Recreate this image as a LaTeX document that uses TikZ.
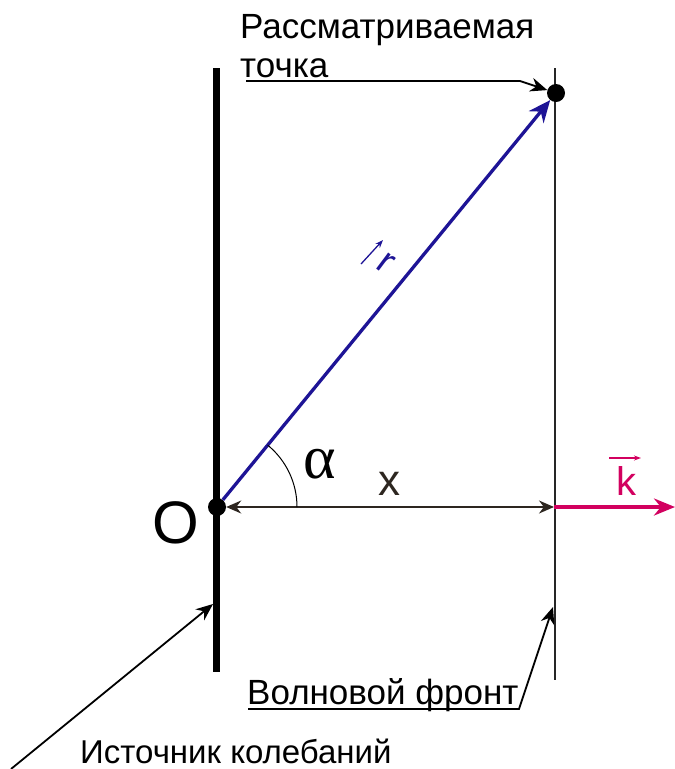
\documentclass[tikz,border=0pt]{standalone}
\usepackage{fontspec}
\setmainfont{Liberation Sans}
\newfontfamily\greekfont{Liberation Serif}
\usetikzlibrary{arrows.meta,positioning,calc}
\definecolor{vecblue}{RGB}{30,20,150}
\definecolor{wavek}{RGB}{210,0,95}
\definecolor{darkline}{RGB}{45,38,32}

\begin{document}
\begin{tikzpicture}[
  x=1pt, y=-1pt,
  >=Stealth,
  dot/.style={
    circle, fill=black, inner sep=0pt, minimum size=18pt
  },
  source/.style={line width=7pt, black},
  front/.style={line width=1.6pt, black!85},
  rvec/.style={line width=3.3pt, vecblue, -{Stealth[length=22pt,width=19pt]}},
  xdim/.style={line width=1.8pt, darkline,
    {Stealth[length=15pt,width=13pt]}-{Stealth[length=15pt,width=13pt]}},
  kvec/.style={line width=3.8pt, wavek, -{Stealth[length=21pt,width=17pt]}},
  lead/.style={line width=1.8pt, black, -{Stealth[length=17pt,width=14pt]}},
  txt/.style={font=\fontsize{35}{40}\selectfont, inner sep=0pt, anchor=base west},
  sym/.style={inner sep=0pt, anchor=base}
]
\useasboundingbox (0,0) rectangle (675,769);

% -- Источник и волновой фронт --
\coordinate (srctop) at (216,68);
\coordinate (srcbot) at (216,672);
\coordinate (ftop)   at (555,68);
\coordinate (fbot)   at (555,680);
\draw[source] (srctop) -- (srcbot);
\draw[front]  (ftop)   -- (fbot);

% -- Точки --
\node[dot] (O) at (217,507) {};
\node[dot] (P) at (556,93)  {};
\coordinate (F)    at (554,507);
\coordinate (kend) at (675,507);

% -- Векторы --
\draw[rvec] (O) -- (P);
\draw[xdim] (O) -- (F);
\draw[kvec] (F) -- (kend);
\draw[line width=1pt] (297,507) arc[start angle=0, end angle=-50.7, radius=80];

% -- Обозначения --
\node[sym, font=\fontsize{60}{60}\selectfont] (Olbl) at (176,543) {O};
\node[sym, font=\greekfont\fontsize{62}{62}\selectfont] (alpha) at (320,478) {α};
\node[sym, font=\fontsize{44}{44}\selectfont, text=darkline] (xlbl) at (389,495) {x};
\node[sym, font=\fontsize{40}{40}\selectfont, text=wavek] (klbl) at (626,495) {k};
\coordinate (ka) at (609,458);
\coordinate (kb) at (641,458);
\draw[wavek, line width=1.2pt, -{Stealth[length=7pt,width=5pt]}] (ka) -- (kb);
\node[font=\fontsize{38}{38}\selectfont, text=vecblue, inner sep=0pt, rotate=-37] (rlbl) at (386,263) {r};
\coordinate (ra) at (361,264);
\coordinate (rb) at (383,240);
\draw[vecblue, line width=1.3pt, -{Stealth[length=8pt,width=6pt]}] (ra) -- (rb);

% -- Подписи --
\node[txt] (rasm)   at (240,38)  {Рассматриваемая};
\node[txt] (tochka) at (240,77)  {точка};
\node[txt] (wfront) at (247,704) {Волновой фронт};
\node[txt, font=\fontsize{33}{38}\selectfont] (istoch) at (80,763) {Источник колебаний};

% -- Выноски --
\coordinate (ptA) at (246,81);
\coordinate (ptB) at (520,81);
\draw[lead] (ptA) -- (ptB) -- (P);

\coordinate (wfA) at (248,709);
\coordinate (wfB) at (519,709);
\coordinate (wfT) at (553,607);
\draw[lead] (wfA) -- (wfB) -- (wfT);

\coordinate (srcA) at (11,769);
\coordinate (srcT) at (213,604);
\draw[lead] (srcA) -- (srcT);

\end{tikzpicture}
\end{document}
